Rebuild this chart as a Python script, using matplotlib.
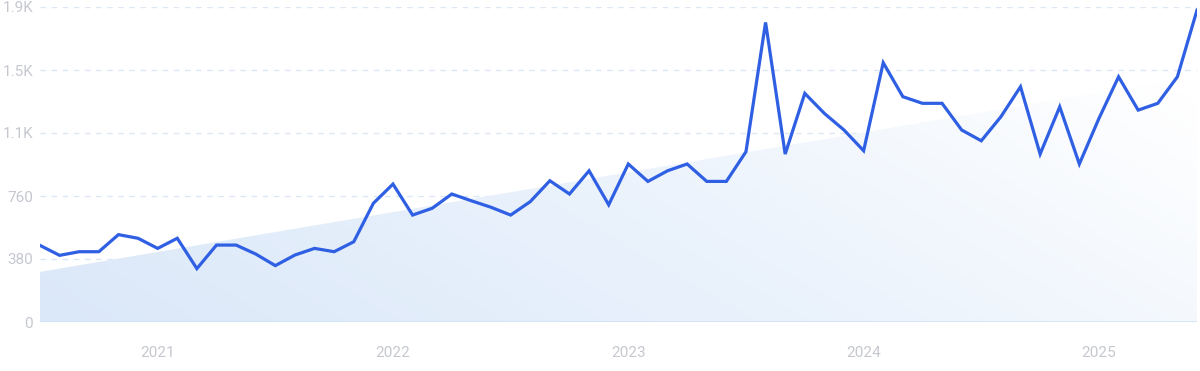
import numpy as np
import matplotlib.pyplot as plt
from matplotlib.colors import LinearSegmentedColormap

# monthly values, Jul 2020 .. Jun 2025
values = [462, 402, 424, 424, 527, 505, 444, 505, 322, 464, 464, 410,
          340, 404, 444, 424, 484, 716, 832, 645, 686, 772, 731, 692,
          645, 726, 852, 772, 912, 707, 953, 848, 912, 953, 848, 848,
          1027, 1807, 1013, 1379, 1258, 1158, 1033, 1564, 1359, 1319, 1319, 1158,
          1093, 1238, 1419, 1013, 1298, 953, 1228, 1479, 1278, 1319, 1479, 1881]
year_ticks = [6, 18, 30, 42, 54]
year_labels = ['2021', '2022', '2023', '2024', '2025']
y_ticks = [0, 380, 760, 1140, 1520, 1900]
y_labels = ['0', '380', '760', '1.1K', '1.5K', '1.9K']

plt.rcParams['font.family'] = ['Roboto', 'DejaVu Sans']

x = np.arange(len(values))
y = np.array(values, dtype=float)

fig = plt.figure(figsize=(12, 3.71), dpi=100)
ax = fig.add_axes([40 / 1200, 49 / 371, 1157 / 1200, 315 / 371])

# trend area (linear fit)
k, b = np.polyfit(x, y, 1)
trend = k * x + b
poly = ax.fill_between(x, 0, trend, color='none', lw=0)

cmap = LinearSegmentedColormap.from_list('fade', ['#dbe8f9', '#eaf2fc', '#ffffff'])
gx, gy = np.meshgrid(np.linspace(0, 1, 300), np.linspace(0, 1, 100))
grad = 0.75 * gx + 0.35 * (1 - gy)
img = ax.imshow(grad, cmap=cmap, vmin=0, vmax=1, aspect='auto',
                extent=[x[0], x[-1], 0, 1900], origin='upper', zorder=1)
img.set_clip_path(poly.get_paths()[0], transform=ax.transData)

# grid
for t in y_ticks[1:]:
    ax.axhline(t, color='#dce7f5', lw=1, ls=(0, (4, 4)), zorder=0)
ax.axhline(0, color='#cfe3f6', lw=1.2, zorder=2)

ax.plot(x, y, color='#2f5fe3', lw=2.3, zorder=3, solid_joinstyle='miter')

ax.set_xlim(x[0], x[-1])
ax.set_ylim(0, 1900)
ax.set_yticks(y_ticks)
ax.set_yticklabels(y_labels)
ax.set_xticks(year_ticks)
ax.set_xticklabels(year_labels)
ax.tick_params(length=0, labelsize=11, labelcolor='#c6c8d0')
ax.tick_params(axis='x', pad=17)
ax.tick_params(axis='y', pad=5)
for s in ax.spines.values():
    s.set_visible(False)

fig.savefig('out.png', dpi=100)
